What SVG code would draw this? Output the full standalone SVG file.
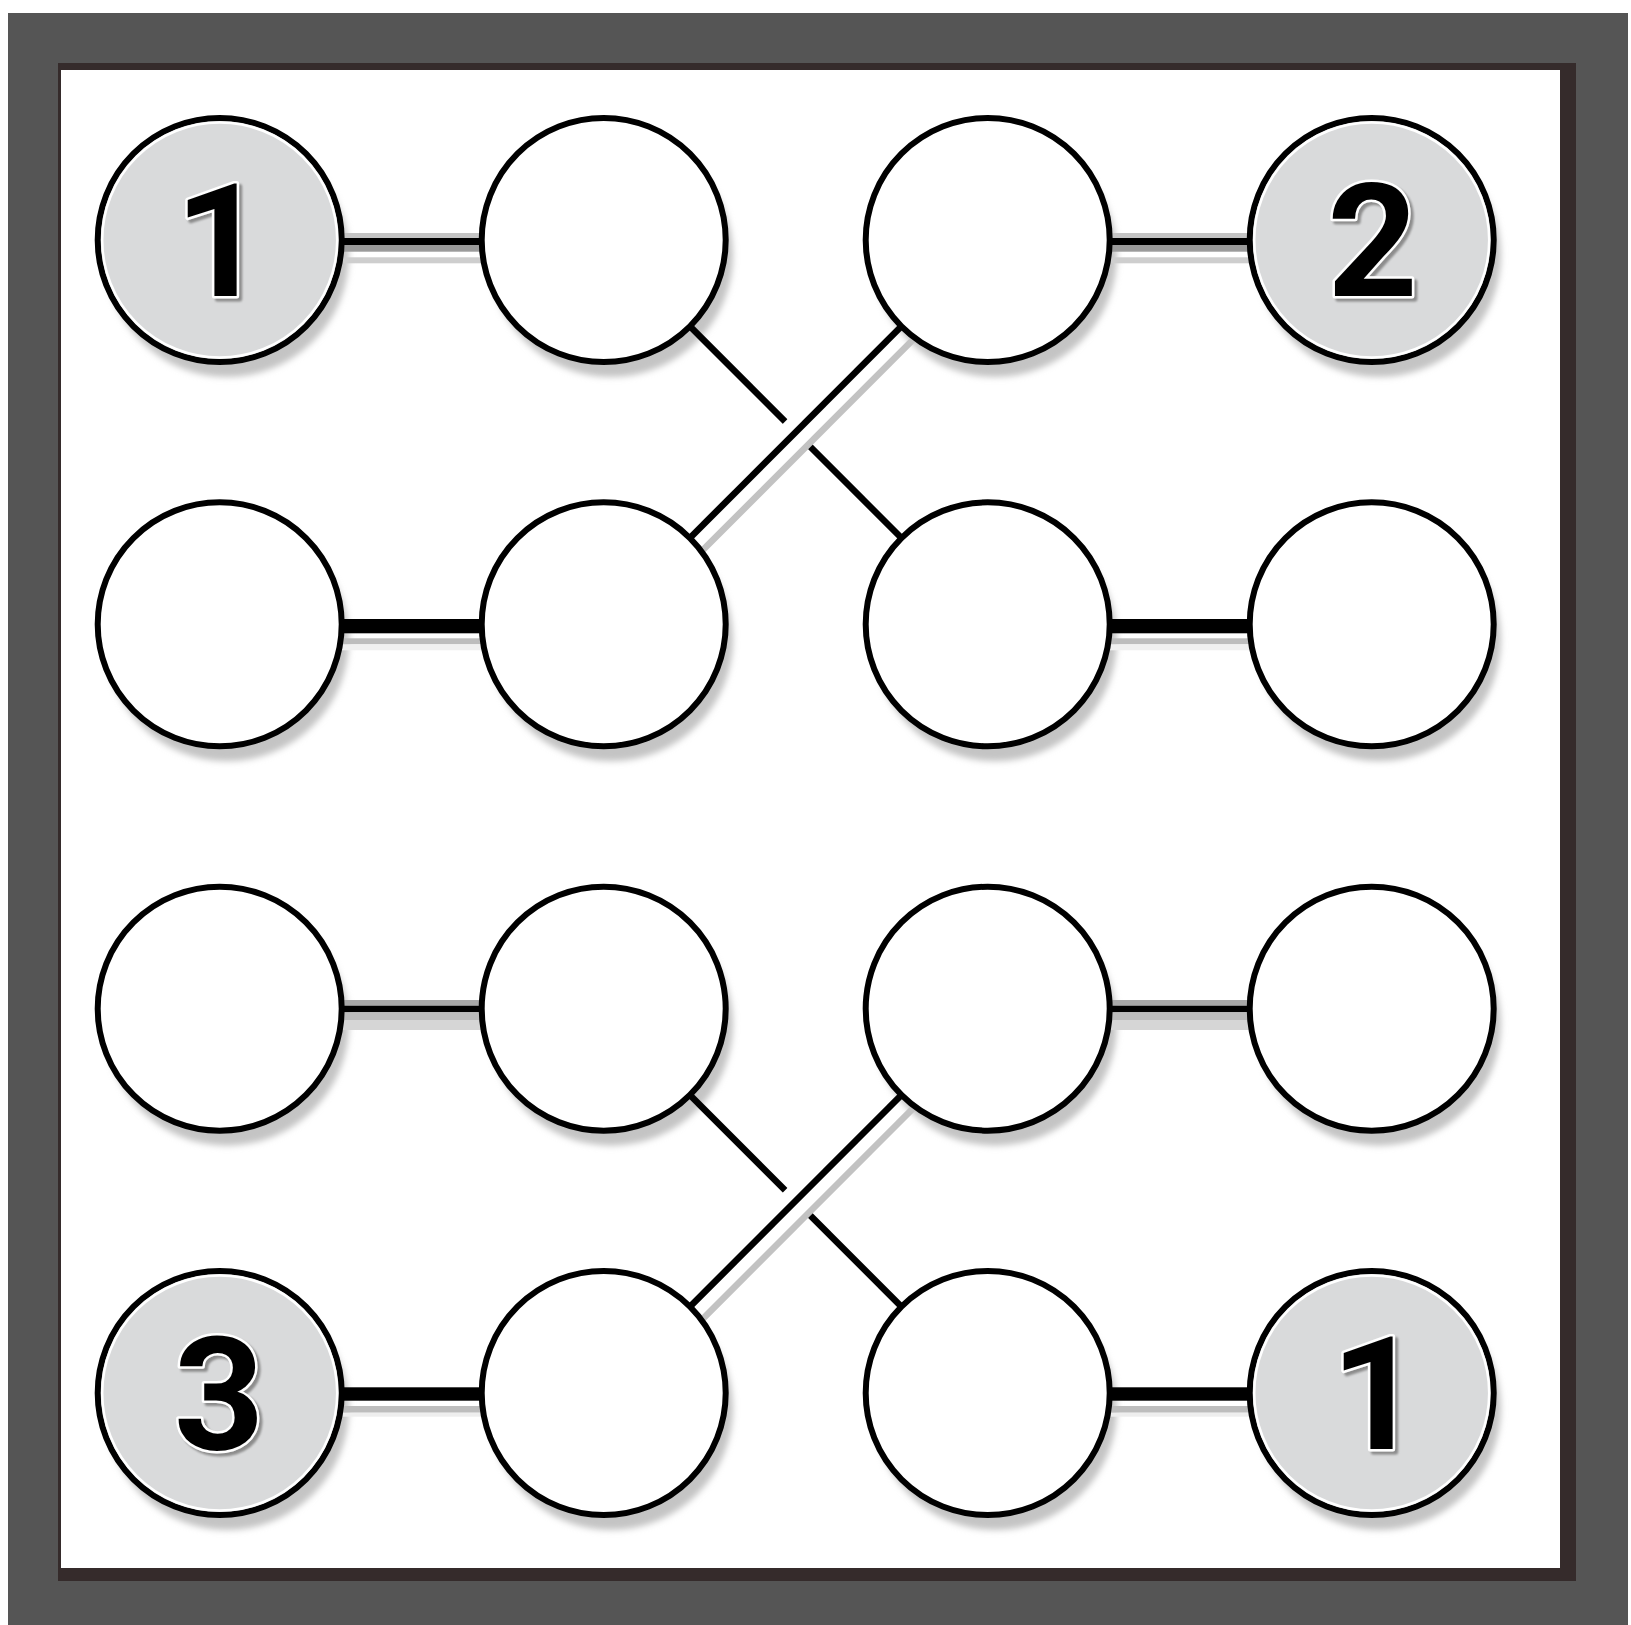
<svg xmlns="http://www.w3.org/2000/svg" width="1631" height="1625" viewBox="0 0 1631 1625">
<defs>
<style>
.node{fill:#fff;stroke:#000;stroke-width:6}
.num{fill:#d9dadb}
.ring{fill:none;stroke:#fff;stroke-width:2.5}
.sh{fill:#c4c4c4}
.lbl{font-family:Roboto,Inter,"Liberation Sans",sans-serif;font-weight:700;font-size:158px;text-anchor:middle;fill:#000;stroke:#fff;stroke-width:5;stroke-linejoin:round;paint-order:stroke;filter:url(#tsh)}
.dl{stroke:#000;stroke-width:6.5;stroke-linecap:butt;fill:none}
.dsh{stroke:#c2c2c2;stroke-width:6.5;fill:none}
.gap{stroke:#fff;stroke-width:12;fill:none}
</style>
<filter id="blur" x="-20%" y="-20%" width="140%" height="140%"><feGaussianBlur stdDeviation="3"/></filter>
<filter id="tsh" x="-30%" y="-30%" width="160%" height="160%"><feDropShadow dx="3" dy="3" stdDeviation="0.8" flood-color="#8c8c8c" flood-opacity="1"/></filter>
<circle id="c" r="122"/>
</defs>
<rect x="0" y="0" width="1631" height="1625" fill="#fff"/>
<rect x="8" y="13" width="1620" height="1612" fill="#555555"/>
<rect x="58" y="63" width="1518" height="1518" fill="#352b2b"/>
<rect x="61" y="70" width="1499" height="1498" fill="#fff"/>

<g id="shadows" filter="url(#blur)">
<use href="#c" class="sh" x="227" y="255"/><use href="#c" class="sh" x="611" y="255"/><use href="#c" class="sh" x="995" y="255"/><use href="#c" class="sh" x="1379" y="255"/>
<use href="#c" class="sh" x="227" y="639.3"/><use href="#c" class="sh" x="611" y="639.3"/><use href="#c" class="sh" x="995" y="639.3"/><use href="#c" class="sh" x="1379" y="639.3"/>
<use href="#c" class="sh" x="227" y="1023.7"/><use href="#c" class="sh" x="611" y="1023.7"/><use href="#c" class="sh" x="995" y="1023.7"/><use href="#c" class="sh" x="1379" y="1023.7"/>
<use href="#c" class="sh" x="227" y="1408"/><use href="#c" class="sh" x="611" y="1408"/><use href="#c" class="sh" x="995" y="1408"/><use href="#c" class="sh" x="1379" y="1408"/>
</g>

<g id="connectors">
<g>
<rect x="219.7" y="233" width="384" height="5" fill="#c4c4c4"/><rect x="219.7" y="238" width="384" height="7" fill="#000"/><rect x="219.7" y="245" width="384" height="6.7" fill="#9b9b9b"/><rect x="219.7" y="257.3" width="384" height="6" fill="#cecece"/>
<rect x="987.7" y="233" width="384" height="5" fill="#c4c4c4"/><rect x="987.7" y="238" width="384" height="7" fill="#000"/><rect x="987.7" y="245" width="384" height="6.7" fill="#9b9b9b"/><rect x="987.7" y="257.3" width="384" height="6" fill="#cecece"/>
</g>
<g>
<rect x="219.7" y="619" width="384" height="14.3" fill="#000"/><rect x="219.7" y="638.3" width="384" height="6" fill="#bdbdbd"/><rect x="219.7" y="644.3" width="384" height="6" fill="#f0f0f0"/>
<rect x="987.7" y="619" width="384" height="14.3" fill="#000"/><rect x="987.7" y="638.3" width="384" height="6" fill="#bdbdbd"/><rect x="987.7" y="644.3" width="384" height="6" fill="#f0f0f0"/>
</g>
<g>
<rect x="219.7" y="1000" width="384" height="5.7" fill="#a8a8a8"/><rect x="219.7" y="1005.7" width="384" height="6.6" fill="#000"/><rect x="219.7" y="1012.3" width="384" height="7.7" fill="#bbbbbb"/><rect x="219.7" y="1020" width="384" height="10" fill="#d6d6d6"/>
<rect x="987.7" y="1000" width="384" height="5.7" fill="#a8a8a8"/><rect x="987.7" y="1005.7" width="384" height="6.6" fill="#000"/><rect x="987.7" y="1012.3" width="384" height="7.7" fill="#bbbbbb"/><rect x="987.7" y="1020" width="384" height="10" fill="#d6d6d6"/>
</g>
<g>
<rect x="219.7" y="1387.3" width="384" height="13.4" fill="#000"/><rect x="219.7" y="1406" width="384" height="6.7" fill="#bdbdbd"/><rect x="219.7" y="1412.7" width="384" height="4" fill="#eeeeee"/>
<rect x="987.7" y="1387.3" width="384" height="13.4" fill="#000"/><rect x="987.7" y="1406" width="384" height="6.7" fill="#bdbdbd"/><rect x="987.7" y="1412.7" width="384" height="4" fill="#eeeeee"/>
</g>
<g>
<line class="dl" x1="603.7" y1="240" x2="987.7" y2="624.3"/>
<line class="gap" x1="785.1" y1="421.6" x2="807.7" y2="444.2"/>
<line class="dsh" x1="999.7" y1="253" x2="615.7" y2="637.3"/>
<line class="dl" x1="987.7" y1="240" x2="603.7" y2="624.3"/>
</g>
<g>
<line class="dl" x1="603.7" y1="1008.7" x2="987.7" y2="1393"/>
<line class="gap" x1="785.1" y1="1190.2" x2="807.7" y2="1212.8"/>
<line class="dsh" x1="999.7" y1="1021.7" x2="615.7" y2="1406"/>
<line class="dl" x1="987.7" y1="1008.7" x2="603.7" y2="1393"/>
</g>
</g>

<g id="n-r1c1"><use href="#c" class="node num" x="219.7" y="240"/><circle class="ring" cx="219.7" cy="240" r="117.5"/>
<text class="lbl" x="220" y="296">1</text></g>
<g id="n-r1c2"><use href="#c" class="node" x="603.7" y="240"/></g>
<g id="n-r1c3"><use href="#c" class="node" x="987.7" y="240"/></g>
<g id="n-r1c4"><use href="#c" class="node num" x="1371.7" y="240"/><circle class="ring" cx="1371.7" cy="240" r="117.5"/>
<text class="lbl" x="1372.5" y="296">2</text></g>

<g id="n-r2c1"><use href="#c" class="node" x="219.7" y="624.3"/></g>
<g id="n-r2c2"><use href="#c" class="node" x="603.7" y="624.3"/></g>
<g id="n-r2c3"><use href="#c" class="node" x="987.7" y="624.3"/></g>
<g id="n-r2c4"><use href="#c" class="node" x="1371.7" y="624.3"/></g>

<g id="n-r3c1"><use href="#c" class="node" x="219.7" y="1008.7"/></g>
<g id="n-r3c2"><use href="#c" class="node" x="603.7" y="1008.7"/></g>
<g id="n-r3c3"><use href="#c" class="node" x="987.7" y="1008.7"/></g>
<g id="n-r3c4"><use href="#c" class="node" x="1371.7" y="1008.7"/></g>

<g id="n-r4c1"><use href="#c" class="node num" x="219.7" y="1393"/><circle class="ring" cx="219.7" cy="1393" r="117.5"/>
<text class="lbl" x="219" y="1449">3</text></g>
<g id="n-r4c2"><use href="#c" class="node" x="603.7" y="1393"/></g>
<g id="n-r4c3"><use href="#c" class="node" x="987.7" y="1393"/></g>
<g id="n-r4c4"><use href="#c" class="node num" x="1371.7" y="1393"/><circle class="ring" cx="1371.7" cy="1393" r="117.5"/>
<text class="lbl" x="1376" y="1449">1</text></g>
</svg>
